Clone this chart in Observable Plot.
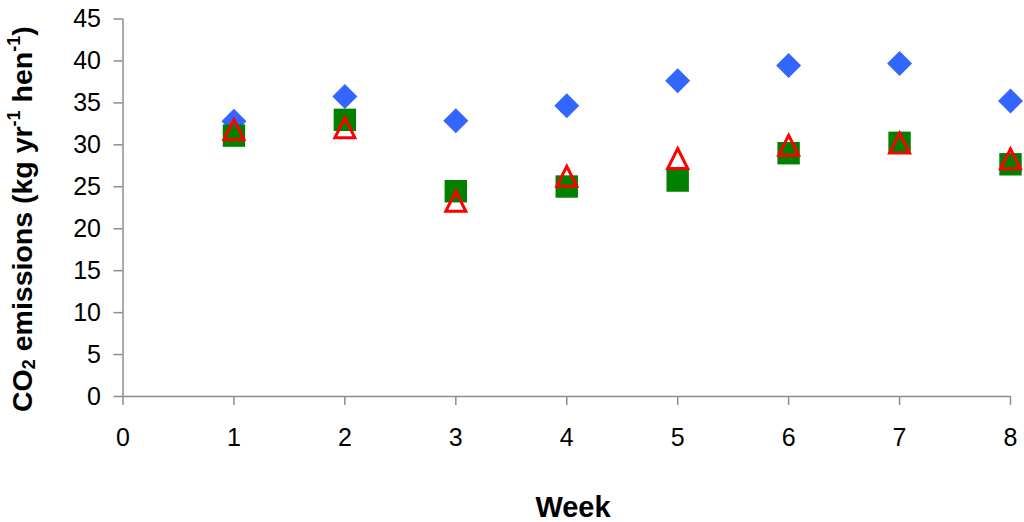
<!DOCTYPE html>
<html>
<head>
<meta charset="utf-8">
<script src="https://cdn.jsdelivr.net/npm/d3@7"></script>
<script src="https://cdn.jsdelivr.net/npm/@observablehq/plot@0.6"></script>
<style>
  html, body { margin: 0; padding: 0; background: #fff; }
  #chart { width: 1024px; height: 522px; }
</style>
</head>
<body>
<div id="chart"></div>
<script>
const weeks = [1, 2, 3, 4, 5, 6, 7, 8];
const blueDiamond = [32.8, 35.76, 32.86, 34.65, 37.63, 39.45, 39.69, 35.24];
const greenSquare = [31.1, 32.98, 24.47, 25.03, 25.74, 29.0, 30.24, 27.68];
const redTriangle = [31.82, 32.04, 23.28, 26.25, 28.37, 29.95, 30.21, 28.33];
const xTicks = [0, 1, 2, 3, 4, 5, 6, 7, 8];
const yTicks = [0, 5, 10, 15, 20, 25, 30, 35, 40, 45];

const rows = (vals) => weeks.map((w, i) => ({week: w, value: vals[i]}));

const diamondSym = {draw(ctx, size) {
  const r = Math.sqrt(size / Math.PI);
  ctx.moveTo(0, -r); ctx.lineTo(r, 0); ctx.lineTo(0, r); ctx.lineTo(-r, 0); ctx.closePath();
}};
const squareSym = {draw(ctx, size) {
  const r = Math.sqrt(size / Math.PI);
  ctx.rect(-r, -r, 2 * r, 2 * r);
}};
const triSym = {draw(ctx, size) {
  const r = Math.sqrt(size / Math.PI);
  ctx.moveTo(0, -r); ctx.lineTo(r, r); ctx.lineTo(-r, r); ctx.closePath();
}};

const axisGray = "#8c8c8c";

const plot = Plot.plot({
  width: 1024,
  height: 522,
  marginLeft: 122.5,
  marginRight: 14,
  marginTop: 18.5,
  marginBottom: 126,
  style: {fontFamily: "'Liberation Sans', Arial, sans-serif", fontSize: "25px", color: "black", background: "white"},
  x: {domain: [0, 8]},
  y: {domain: [0, 45]},
  marks: [
    Plot.axisY({ticks: yTicks, text: null, tickSize: 9, stroke: axisGray, strokeWidth: 1.5, label: null}),
    Plot.axisY({ticks: yTicks, tickSize: 0, tickPadding: 22, fill: "black", label: null, fontSize: 25}),
    Plot.axisX({ticks: xTicks, text: null, tickSize: 9, stroke: axisGray, strokeWidth: 1.5, label: null}),
    Plot.axisX({ticks: xTicks, tickSize: 0, tickPadding: 32, fill: "black", label: null, fontSize: 25}),
    Plot.ruleX([0], {y1: 0, y2: 45, stroke: axisGray, strokeWidth: 1.5}),
    Plot.ruleY([0], {x1: 0, x2: 8, stroke: axisGray, strokeWidth: 1.5}),
    Plot.dot(rows(blueDiamond), {x: "week", y: "value", symbol: diamondSym, r: 12.5, fill: "#3366ff", stroke: "none"}),
    Plot.dot(rows(greenSquare), {x: "week", y: "value", symbol: squareSym, r: 11.2, fill: "#008000", stroke: "none"}),
    Plot.dot(rows(redTriangle), {x: "week", y: "value", symbol: triSym, r: 10, fill: "none", stroke: "#ff0000", strokeWidth: 3, strokeLinejoin: "miter"})
  ]
});

const svg = d3.select(plot);
const font = "'Liberation Sans', Arial, sans-serif";

svg.append("text")
  .attr("x", 573).attr("y", 517)
  .attr("text-anchor", "middle")
  .attr("font-family", font).attr("font-weight", "bold").attr("font-size", 29)
  .attr("fill", "black")
  .text("Week");

const yl = svg.append("text")
  .attr("transform", "translate(32,412) rotate(-90)")
  .attr("text-anchor", "start")
  .attr("font-family", font).attr("font-weight", "bold").attr("font-size", 28.5)
  .attr("fill", "black");
yl.append("tspan").text("CO");
yl.append("tspan").attr("font-size", 18).attr("dy", 3).text("2");
yl.append("tspan").attr("dy", -3).text(" emissions (kg yr");
yl.append("tspan").attr("font-size", 18).attr("dy", -12).text("-1");
yl.append("tspan").attr("dy", 12).text(" hen");
yl.append("tspan").attr("font-size", 18).attr("dy", -12).text("-1");
yl.append("tspan").attr("dy", 12).text(")");

document.getElementById("chart").appendChild(plot);
</script>
</body>
</html>
